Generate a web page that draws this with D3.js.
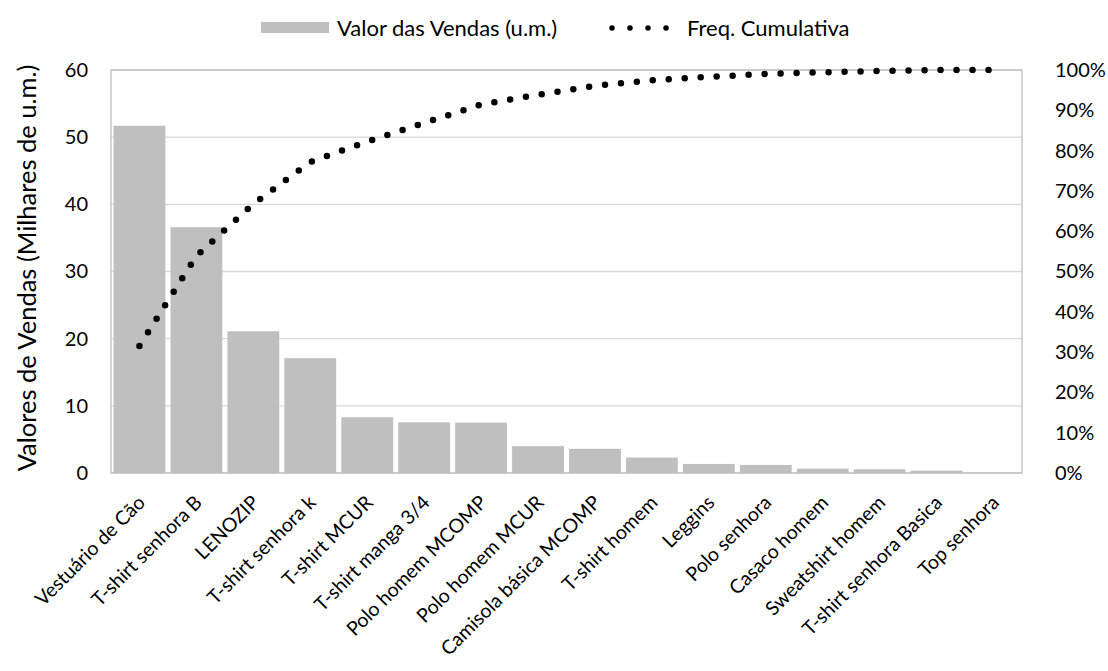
<!DOCTYPE html>
<html><head><meta charset="utf-8">
<script src="https://cdn.jsdelivr.net/npm/d3@7"></script>
<style>body{margin:0;background:#fff;} text{font-family:Lato, "Open Sans", sans-serif;fill:#000;}</style>
</head><body>
<svg id="chart" width="1108" height="671"></svg>
<script>
const categories = ["Vestuário de Cão","T-shirt senhora B","LENOZIP","T-shirt senhora k","T-shirt MCUR","T-shirt manga 3/4","Polo homem MCOMP","Polo homem MCUR","Camisola básica MCOMP","T-shirt homem","Leggins","Polo senhora","Casaco homem","Sweatshirt homem","T-shirt senhora Basica","Top senhora"];
const salesValues = [51.7,36.6,21.1,17.1,8.3,7.55,7.5,4.0,3.6,2.3,1.35,1.2,0.65,0.55,0.35,0.05];
const leftTicks = [0,10,20,30,40,50,60];
const rightTicks = [0,0.1,0.2,0.3,0.4,0.5,0.6,0.7,0.8,0.9,1.0];
const seriesNames = ["Valor das Vendas (u.m.)","Freq. Cumulativa"];

const total = d3.sum(salesValues);
let acc = 0;
const cumulative = salesValues.map(v => (acc += v) / total);

const svg = d3.select("#chart");
const m = {left:111, right:1022, top:70, bottom:473};
const x = d3.scaleBand().domain(categories).range([m.left, m.right]).paddingInner(0.09).paddingOuter(0.045);
const y = d3.scaleLinear().domain([0,60]).range([m.bottom, m.top]);
const y2 = d3.scaleLinear().domain([0,1]).range([m.bottom, m.top]);

// gridlines
svg.append("g").selectAll("line").data(leftTicks).join("line")
  .attr("x1", m.left).attr("x2", m.right)
  .attr("y1", d=>y(d)).attr("y2", d=>y(d))
  .attr("stroke", "#d9d9d9").attr("stroke-width", 1.3);

// bars
svg.append("g").selectAll("rect").data(salesValues).join("rect")
  .attr("x", (d,i)=>x(categories[i]))
  .attr("width", x.bandwidth())
  .attr("y", d=>y(d))
  .attr("height", d=>y(0)-y(d))
  .attr("fill", "#bfbfbf");

// plot frame
svg.append("rect").attr("x", m.left).attr("y", m.top)
  .attr("width", m.right-m.left).attr("height", m.bottom-m.top)
  .attr("fill","none").attr("stroke","#bfbfbf").attr("stroke-width",1.3);

// cumulative line
const line = d3.line().x((d,i)=>x(categories[i]) + x.bandwidth()/2).y(d=>y2(d));
svg.append("path").datum(cumulative).attr("d", line)
  .attr("fill","none").attr("stroke","#000").attr("stroke-width",6.5)
  .attr("stroke-linecap","round").attr("stroke-dasharray","0 16");

// left axis
const fs = 20;
const yAxis = d3.axisLeft(y).tickValues(leftTicks).tickSize(0).tickPadding(23);
const gL = svg.append("g").attr("transform",`translate(${m.left},0)`).call(yAxis);
gL.select(".domain").remove();
gL.selectAll("text").style("font-size", fs+"px").style("font-family","Lato, sans-serif").attr("fill","#000");

// right axis
const yAxis2 = d3.axisRight(y2).tickValues(rightTicks).tickFormat(d3.format(".0%")).tickSize(0).tickPadding(33);
const gR = svg.append("g").attr("transform",`translate(${m.right},0)`).call(yAxis2);
gR.select(".domain").remove();
gR.selectAll("text").style("font-size", fs+"px").style("font-family","Lato, sans-serif").attr("fill","#000");

// x labels
svg.append("g").selectAll("text").data(categories).join("text")
  .attr("transform", d=>`translate(${x(d)+x.bandwidth()/2+2},${m.bottom+26}) rotate(-45)`)
  .attr("text-anchor","end").attr("dy","0.35em")
  .style("font-size", "19.5px").text(d=>d);

// y title
svg.append("text").attr("transform",`translate(36,268) rotate(-90)`)
  .attr("text-anchor","middle").style("font-size","25.5px").text("Valores de Vendas (Milhares de u.m.)");

// legend
const lg = svg.append("g");
lg.append("rect").attr("x",261).attr("y",22).attr("width",68).attr("height",11).attr("fill","#bfbfbf");
lg.append("text").attr("x",337).attr("y",28).attr("dy","0.35em").style("font-size","22px").text(seriesNames[0]);
lg.append("line").attr("x1",612).attr("x2",684).attr("y1",28).attr("y2",28)
  .attr("stroke","#000").attr("stroke-width",5.5).attr("stroke-linecap","round").attr("stroke-dasharray","0 18");
lg.append("text").attr("x",687).attr("y",28).attr("dy","0.35em").style("font-size","22px").text(seriesNames[1]);
</script>
</body></html>
